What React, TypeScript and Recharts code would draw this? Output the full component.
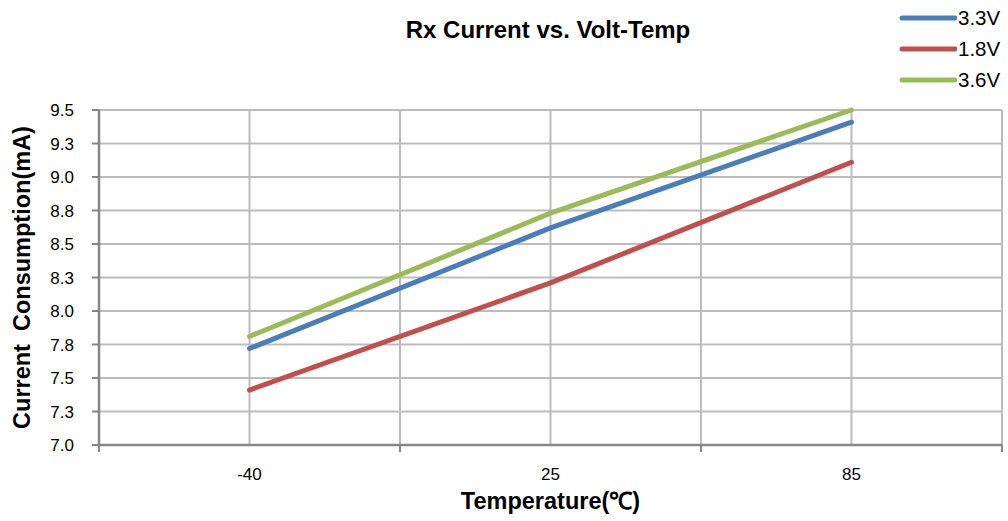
import { LineChart, Line, XAxis, YAxis, CartesianGrid, Legend } from "recharts";

const temps = ["-40", "25", "85"];
const rx33 = [7.72, 8.62, 9.41];
const rx18 = [7.41, 8.21, 9.11];
const rx36 = [7.81, 8.73, 9.5];
const yTicks = [7, 7.25, 7.5, 7.75, 8, 8.25, 8.5, 8.75, 9, 9.25, 9.5];
// category centres are 0..2, half steps are the category borders
const xTicks = [-0.5, 0, 0.5, 1, 1.5, 2, 2.5];

const SERIES = [
  { key: "v33", name: "3.3V", color: "#4a7ebb" },
  { key: "v18", name: "1.8V", color: "#c0504d" },
  { key: "v36", name: "3.6V", color: "#9bbb59" },
];

const data = temps.map((t, i) => ({ idx: i, temp: t, v33: rx33[i], v18: rx18[i], v36: rx36[i] }));

const FONT = "'Liberation Sans', Arial, sans-serif";
const AXIS = "#878787";
const GRID = "#bcbcbc";

function TempTick({ x, y, payload }: any) {
  const v = payload.value;
  if (Number.isInteger(v)) {
    return (
      <text x={x} y={y + 35} textAnchor="middle" fontSize={17} fontFamily={FONT} fill="#000">
        {temps[v]}
      </text>
    );
  }
  return <line x1={x} y1={y} x2={x} y2={y + 7} stroke={AXIS} strokeWidth={2} />;
}

function LegendBox() {
  return (
    <div style={{ fontFamily: FONT, fontSize: 20.5, color: "#000" }}>
      {SERIES.map((s) => (
        <div key={s.key} style={{ display: "flex", alignItems: "center", height: 31 }}>
          <svg width={58} height={10}>
            <line x1={3} y1={5} x2={56} y2={5} stroke={s.color} strokeWidth={5} strokeLinecap="round" />
          </svg>
          <span style={{ marginLeft: 1 }}>{s.name}</span>
        </div>
      ))}
    </div>
  );
}

export default function App() {
  return (
    <div style={{ position: "absolute", left: 0, top: 0, width: 1008, height: 521, background: "#fff" }}>
      <div
        style={{
          position: "absolute",
          left: 348,
          width: 400,
          top: 16,
          textAlign: "center",
          fontFamily: FONT,
          fontWeight: "bold",
          fontSize: 24,
          zIndex: 2,
        }}
      >
        Rx Current vs. Volt-Temp
      </div>
      <LineChart width={1008} height={521} data={data} margin={{ top: 110, right: 6, bottom: 0, left: 0 }}>
        <CartesianGrid stroke={GRID} strokeWidth={2} />
        <XAxis
          dataKey="idx"
          type="number"
          domain={[-0.5, 2.5]}
          ticks={xTicks}
          interval={0}
          height={76}
          tickSize={0}
          tickMargin={0}
          tickLine={false}
          axisLine={{ stroke: AXIS, strokeWidth: 2.5 }}
          tick={<TempTick />}
          label={{
            value: "Temperature(℃)",
            position: "insideBottom",
            offset: 12,
            style: { fontFamily: FONT, fontWeight: "bold", fontSize: 23.5, fill: "#000" },
          }}
        />
        <YAxis
          type="number"
          domain={[7, 9.5]}
          ticks={yTicks}
          interval={0}
          width={99}
          tickSize={7}
          tickMargin={18}
          tickLine={{ stroke: AXIS, strokeWidth: 2 }}
          axisLine={{ stroke: AXIS, strokeWidth: 2.5 }}
          tick={{ fontSize: 17, fontFamily: FONT, fill: "#000" }}
          tickFormatter={(v) => Number(v).toFixed(1)}
          label={{
            value: "Current\u00a0 Consumption(mA)",
            angle: -90,
            position: "insideLeft",
            offset: 22,
            style: { textAnchor: "middle", fontFamily: FONT, fontWeight: "bold", fontSize: 23.5, fill: "#000" },
          }}
        />
        <Legend
          layout="horizontal"
          verticalAlign="middle"
          align="center"
          wrapperStyle={{ top: 2, left: 899, width: 109 }}
          content={() => <LegendBox />}
        />
        {SERIES.map((s) => (
          <Line
            key={s.key}
            type="linear"
            dataKey={s.key}
            name={s.name}
            stroke={s.color}
            strokeWidth={5}
            strokeLinecap="round"
            dot={false}
            activeDot={false}
            isAnimationActive={false}
          />
        ))}
      </LineChart>
    </div>
  );
}
